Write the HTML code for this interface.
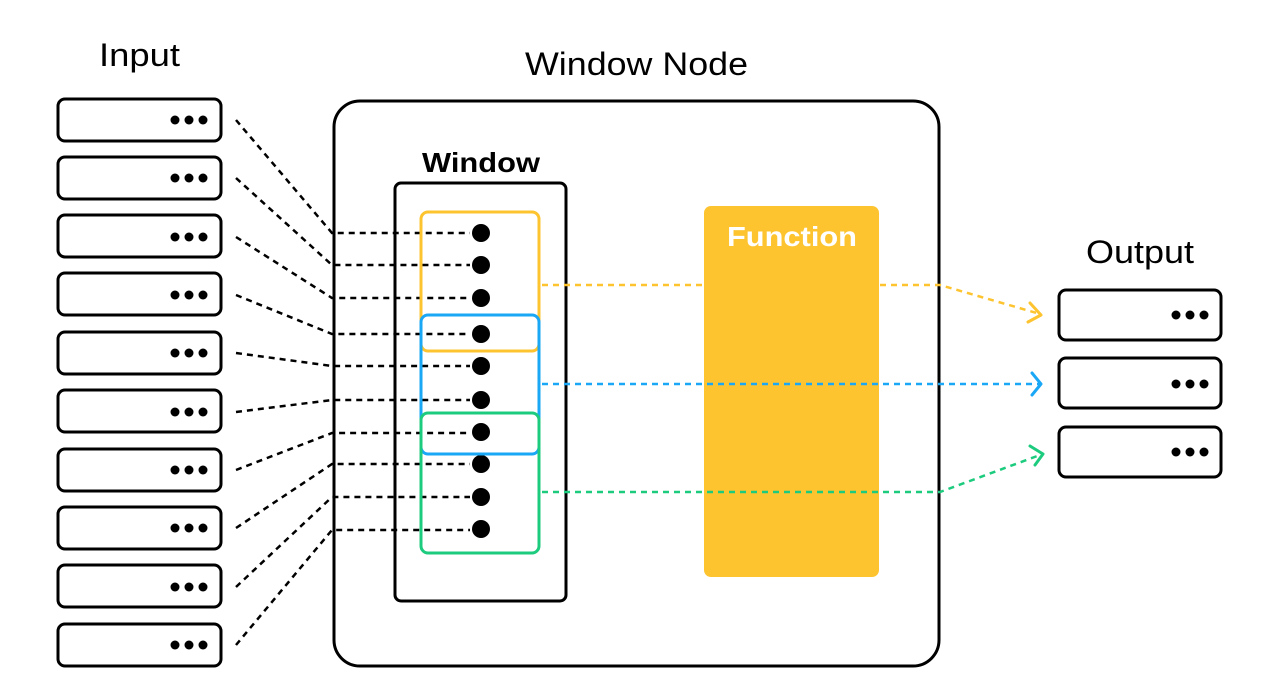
<!DOCTYPE html>
<html><head><meta charset="utf-8"><style>
html,body{margin:0;padding:0;background:#fff;}
svg{display:block;}
text{font-family:"Liberation Sans",sans-serif;}
</style></head><body>
<svg width="1280" height="700" viewBox="0 0 1280 700" xmlns="http://www.w3.org/2000/svg">
<text x="99" y="66" font-size="32" textLength="81" lengthAdjust="spacingAndGlyphs">Input</text>
<text x="525" y="75" font-size="32" textLength="223" lengthAdjust="spacingAndGlyphs">Window Node</text>
<text x="1086" y="263" font-size="32" textLength="108" lengthAdjust="spacingAndGlyphs">Output</text>

<rect x="334" y="101" width="605" height="565" rx="26" fill="none" stroke="#000" stroke-width="3"/>
<rect x="395" y="183" width="171" height="418" rx="6" fill="none" stroke="#000" stroke-width="3"/>
<text x="422" y="172" font-size="28" font-weight="bold" textLength="118" lengthAdjust="spacingAndGlyphs">Window</text>

<rect x="704" y="206" width="175" height="371" rx="7" fill="#FDC430"/>
<text x="727" y="246" font-size="28" font-weight="bold" fill="#fff" textLength="130" lengthAdjust="spacingAndGlyphs">Function</text>

<g fill="none" stroke="#000" stroke-width="3">
<rect x="58" y="99" width="163" height="42" rx="7"/>
<rect x="58" y="157" width="163" height="42" rx="7"/>
<rect x="58" y="215" width="163" height="42" rx="7"/>
<rect x="58" y="273" width="163" height="42" rx="7"/>
<rect x="58" y="332" width="163" height="42" rx="7"/>
<rect x="58" y="390" width="163" height="42" rx="7"/>
<rect x="58" y="449" width="163" height="42" rx="7"/>
<rect x="58" y="507" width="163" height="42" rx="7"/>
<rect x="58" y="565" width="163" height="42" rx="7"/>
<rect x="58" y="624" width="163" height="42" rx="7"/>
<rect x="1059" y="290" width="162" height="50" rx="7"/>
<rect x="1059" y="358" width="162" height="50" rx="7"/>
<rect x="1059" y="427" width="162" height="50" rx="7"/>
</g>
<g fill="#000">
<circle cx="175" cy="120" r="4.5"/><circle cx="189" cy="120" r="4.5"/><circle cx="203" cy="120" r="4.5"/>
<circle cx="175" cy="178" r="4.5"/><circle cx="189" cy="178" r="4.5"/><circle cx="203" cy="178" r="4.5"/>
<circle cx="175" cy="237" r="4.5"/><circle cx="189" cy="237" r="4.5"/><circle cx="203" cy="237" r="4.5"/>
<circle cx="175" cy="295" r="4.5"/><circle cx="189" cy="295" r="4.5"/><circle cx="203" cy="295" r="4.5"/>
<circle cx="175" cy="353" r="4.5"/><circle cx="189" cy="353" r="4.5"/><circle cx="203" cy="353" r="4.5"/>
<circle cx="175" cy="412" r="4.5"/><circle cx="189" cy="412" r="4.5"/><circle cx="203" cy="412" r="4.5"/>
<circle cx="175" cy="470" r="4.5"/><circle cx="189" cy="470" r="4.5"/><circle cx="203" cy="470" r="4.5"/>
<circle cx="175" cy="528" r="4.5"/><circle cx="189" cy="528" r="4.5"/><circle cx="203" cy="528" r="4.5"/>
<circle cx="175" cy="587" r="4.5"/><circle cx="189" cy="587" r="4.5"/><circle cx="203" cy="587" r="4.5"/>
<circle cx="175" cy="645" r="4.5"/><circle cx="189" cy="645" r="4.5"/><circle cx="203" cy="645" r="4.5"/>
<circle cx="1176" cy="315" r="4.5"/><circle cx="1190" cy="315" r="4.5"/><circle cx="1204" cy="315" r="4.5"/>
<circle cx="1176" cy="384" r="4.5"/><circle cx="1190" cy="384" r="4.5"/><circle cx="1204" cy="384" r="4.5"/>
<circle cx="1176" cy="452" r="4.5"/><circle cx="1190" cy="452" r="4.5"/><circle cx="1204" cy="452" r="4.5"/>
</g>

<g fill="none" stroke="#000" stroke-width="2.5" stroke-dasharray="6,5">
<polyline points="236,120 332,233 470,233"/>
<polyline points="236,178 332,265 470,265"/>
<polyline points="236,237 332,298 470,298"/>
<polyline points="236,295 332,334 470,334"/>
<polyline points="236,353 332,366 470,366"/>
<polyline points="236,412 332,400 470,400"/>
<polyline points="236,470 332,433 470,433"/>
<polyline points="236,528 332,464 470,464"/>
<polyline points="236,587 332,497 470,497"/>
<polyline points="236,645 332,530 470,530"/>
</g>
<g fill="#000">
<circle cx="481" cy="233" r="9"/><circle cx="481" cy="265" r="9"/><circle cx="481" cy="298" r="9"/>
<circle cx="481" cy="334" r="9"/><circle cx="481" cy="366" r="9"/><circle cx="481" cy="400" r="9"/>
<circle cx="481" cy="432" r="9"/><circle cx="481" cy="464" r="9"/><circle cx="481" cy="497" r="9"/>
<circle cx="481" cy="529" r="9"/>
</g>

<rect x="421" y="212" width="118" height="139" rx="7" fill="none" stroke="#FDC430" stroke-width="3"/>
<rect x="421" y="315" width="118" height="139" rx="7" fill="none" stroke="#1AA7F5" stroke-width="3"/>
<rect x="421" y="413" width="118" height="140" rx="7" fill="none" stroke="#1DCB7E" stroke-width="3"/>

<g fill="none" stroke-width="2.5" stroke-dasharray="6,5">
<polyline points="542,285 704,285" stroke="#FDC430"/>
<polyline points="880,285 940,285 1040,314" stroke="#FDC430"/>
<polyline points="542,384 1040,384" stroke="#1AA7F5"/>
<polyline points="542,492 940,492 1040,455" stroke="#1DCB7E"/>
</g>
<g fill="none" stroke-width="3" stroke-linecap="round" stroke-linejoin="round">
<polyline points="1030,303 1041,315 1028,322" stroke="#FDC430"/>
<polyline points="1032,373 1041,384 1032,395" stroke="#1AA7F5"/>
<polyline points="1030,446 1043,454 1035,465" stroke="#1DCB7E"/>
</g>
</svg>
</body></html>
